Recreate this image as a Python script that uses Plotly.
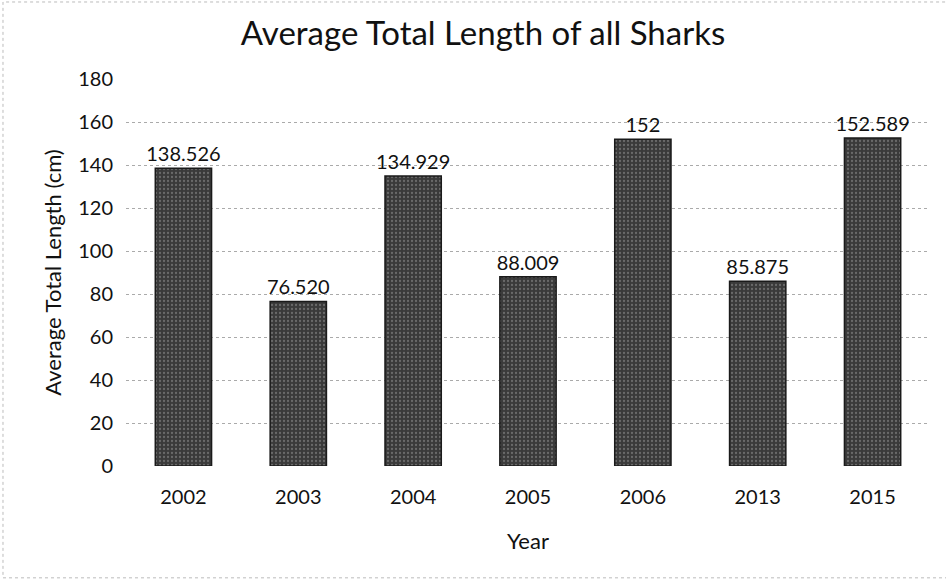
import plotly.graph_objects as go

years = ["2002", "2003", "2004", "2005", "2006", "2013", "2015"]
avg_length = [138.526, 76.520, 134.929, 88.009, 152, 85.875, 152.589]
labels = ["138.526", "76.520", "134.929", "88.009", "152", "85.875", "152.589"]
y_ticks = [0, 20, 40, 60, 80, 100, 120, 140, 160, 180]

FONT = "Lato, 'Open Sans', sans-serif"

fig = go.Figure()
fig.add_trace(go.Bar(
    x=years, y=avg_length, text=labels, textposition="outside",
    constraintext="none",
    textfont=dict(size=20, color="#111", family=FONT),
    cliponaxis=False,
    width=0.49,
    marker=dict(color="#4e4e4e", line=dict(color="#1a1a1a", width=1.5),
                pattern=dict(shape=".", fgcolor="#9a9a9a", bgcolor="#3a3a3a",
                             size=4, solidity=0.25)),
))

fig.update_layout(
    width=946, height=583,
    paper_bgcolor="white", plot_bgcolor="white",
    margin=dict(l=126, r=16, t=79, b=117),
    title=dict(text="Average Total Length of all Sharks", x=0.5106, xanchor="center",
               y=0.943, yanchor="middle", xref="container", yref="container",
               font=dict(size=33, color="#111", family=FONT)),
    showlegend=False,
    font=dict(family=FONT, color="#111"),
)
fig.update_xaxes(range=[-0.5, 6.5], showgrid=False, showline=False, ticks="",
                 tickfont=dict(size=20, family=FONT, color="#111"),
                 ticklabelstandoff=17,
                 title=dict(text="Year", font=dict(size=22, family=FONT, color="#111"), standoff=26))
fig.update_yaxes(range=[0, 180], tickvals=y_ticks, showgrid=True, gridcolor="#aaaaaa",
                 griddash="dot", gridwidth=1, zeroline=False, showline=False,
                 tickfont=dict(size=20, family=FONT, color="#111"),
                 ticklabelstandoff=12,
                 title=dict(text="Average Total Length (cm)", font=dict(size=22, family=FONT, color="#111"), standoff=10))

fig.add_shape(type="rect", xref="paper", yref="paper", x0=-0.153, x1=1.03, y0=-0.289, y1=1.199,
              line=dict(color="#bbbbbb", width=1, dash="dot"))

fig.write_html("out.html")
